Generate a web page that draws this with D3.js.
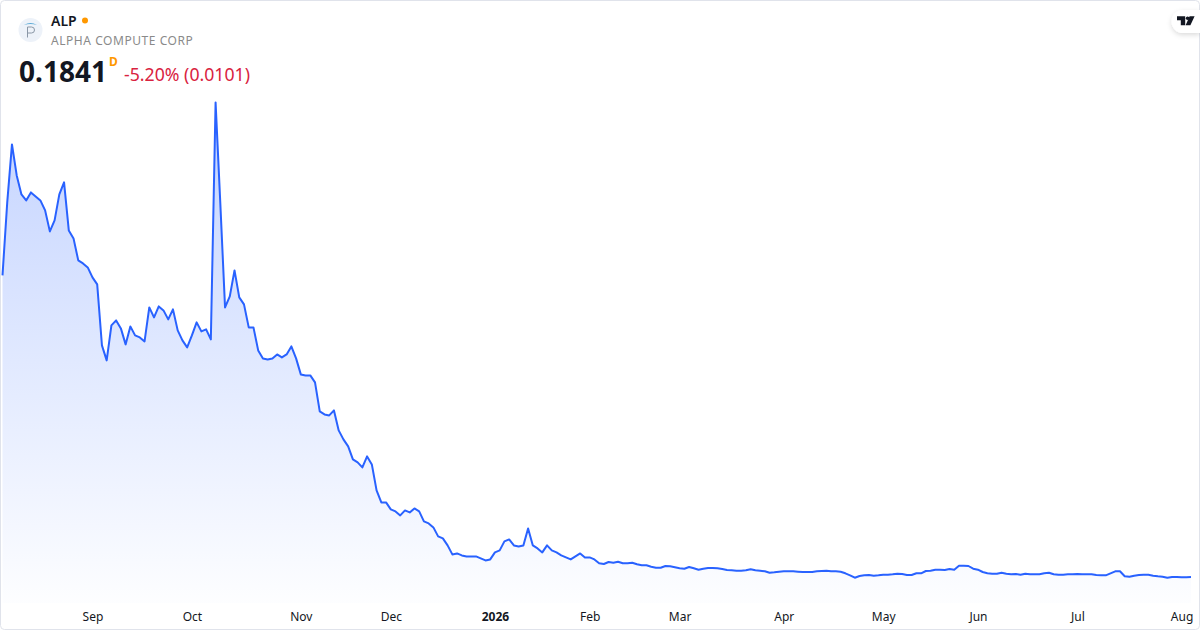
<!DOCTYPE html>
<html>
<head>
<meta charset="utf-8">
<script src="https://cdn.jsdelivr.net/npm/d3@7"></script>
<style>
  html, body { margin: 0; padding: 0; background: #fff; }
  svg { display: block; font-family: "Noto Sans", sans-serif; }
</style>
</head>
<body>
<svg id="chart" width="1200" height="630"></svg>
<script>
// closing prices, one per trading day
const prices = [
  3.20, 3.93, 4.51, 4.20, 4.01, 3.95, 4.03, 3.99, 3.95, 3.85,
  3.64, 3.75, 4.01, 4.13, 3.65, 3.57, 3.35, 3.32, 3.28, 3.18,
  3.11, 2.50, 2.35, 2.70, 2.75, 2.67, 2.51, 2.69, 2.60, 2.58,
  2.54, 2.88, 2.78, 2.89, 2.85, 2.76, 2.86, 2.65, 2.55, 2.48,
  2.60, 2.73, 2.64, 2.66, 2.56, 4.93, 3.92, 2.88, 2.99, 3.25,
  2.98, 2.91, 2.68, 2.68, 2.45, 2.37, 2.36, 2.37, 2.41, 2.38,
  2.41, 2.49, 2.37, 2.21, 2.20, 2.20, 2.13, 1.84, 1.81, 1.80,
  1.85, 1.65, 1.56, 1.49, 1.36, 1.33, 1.28, 1.39, 1.31, 1.05,
  0.93, 0.93, 0.86, 0.84, 0.80, 0.85, 0.83, 0.87, 0.84, 0.74,
  0.72, 0.68, 0.59, 0.57, 0.50, 0.41, 0.42, 0.40, 0.39, 0.39,
  0.39, 0.37, 0.35, 0.36, 0.43, 0.45, 0.54, 0.56, 0.50, 0.49,
  0.50, 0.67, 0.50, 0.47, 0.43, 0.50, 0.45, 0.43, 0.40, 0.38,
  0.36, 0.39, 0.42, 0.38, 0.38, 0.36, 0.321, 0.314, 0.334, 0.327,
  0.337, 0.321, 0.321, 0.327, 0.311, 0.301, 0.301, 0.287, 0.277, 0.277,
  0.294, 0.291, 0.281, 0.271, 0.267, 0.284, 0.271, 0.257, 0.267, 0.274,
  0.274, 0.271, 0.264, 0.254, 0.251, 0.247, 0.247, 0.251, 0.261, 0.251,
  0.247, 0.241, 0.227, 0.231, 0.237, 0.241, 0.241, 0.241, 0.237, 0.234,
  0.234, 0.234, 0.241, 0.244, 0.247, 0.241, 0.241, 0.237, 0.221, 0.201,
  0.177, 0.194, 0.201, 0.204, 0.197, 0.201, 0.207, 0.207, 0.211, 0.217,
  0.214, 0.204, 0.204, 0.221, 0.221, 0.244, 0.247, 0.257, 0.257, 0.254,
  0.264, 0.257, 0.297, 0.297, 0.294, 0.267, 0.257, 0.234, 0.221, 0.217,
  0.217, 0.227, 0.217, 0.211, 0.214, 0.207, 0.217, 0.211, 0.211, 0.211,
  0.221, 0.227, 0.211, 0.207, 0.207, 0.211, 0.211, 0.214, 0.211, 0.211,
  0.211, 0.204, 0.201, 0.201, 0.221, 0.241, 0.241, 0.191, 0.187, 0.197,
  0.204, 0.207, 0.207, 0.197, 0.191, 0.187, 0.177, 0.184, 0.184, 0.181,
  0.181, 0.1841
];
const tickIndexes = [19, 40, 63, 82, 104, 124, 143, 165, 186, 206, 227, 249];
const tickLabels = ["Sep", "Oct", "Nov", "Dec", "2026", "Feb", "Mar", "Apr", "May", "Jun", "Jul", "Aug"];

const symbol = "ALP";
const company = "ALPHA COMPUTE CORP";
const lastPrice = "0.1841";
const interval = "D";
const change = "-5.20% (0.0101)";

const svg = d3.select("#chart");

const x = d3.scaleLinear().domain([0, prices.length - 1]).range([2.5, 1191]);
const y = d3.scaleLinear().domain([0, d3.max(prices)]).range([595.4, 102.4]);
const areaBottom = 603;

const defs = svg.append("defs");
const grad = defs.append("linearGradient")
  .attr("id", "areaFill")
  .attr("gradientUnits", "userSpaceOnUse")
  .attr("x1", 0).attr("x2", 0)
  .attr("y1", y(d3.max(prices))).attr("y2", areaBottom);
grad.append("stop").attr("offset", 0).attr("stop-color", "#2962ff").attr("stop-opacity", 0.28);
grad.append("stop").attr("offset", 1).attr("stop-color", "#2962ff").attr("stop-opacity", 0.01);

const shadow = defs.append("filter").attr("id", "pillShadow")
  .attr("x", "-30%").attr("y", "-30%").attr("width", "160%").attr("height", "170%");
shadow.append("feDropShadow")
  .attr("dx", 0).attr("dy", 2).attr("stdDeviation", 2.5)
  .attr("flood-color", "#000").attr("flood-opacity", 0.14);

svg.append("path")
  .datum(prices)
  .attr("fill", "url(#areaFill)")
  .attr("d", d3.area().x((d, i) => x(i)).y0(areaBottom).y1((d) => y(d)));

svg.append("path")
  .datum(prices)
  .attr("fill", "none")
  .attr("stroke", "#2962ff")
  .attr("stroke-width", 2)
  .attr("stroke-linejoin", "round")
  .attr("d", d3.line().x((d, i) => x(i)).y((d) => y(d)));

// time axis
const axis = d3.axisBottom(x)
  .tickValues(tickIndexes)
  .tickSize(0)
  .tickPadding(0)
  .tickFormat((d, i) => tickLabels[i]);
const axisG = svg.append("g").attr("transform", "translate(0,612)").call(axis);
axisG.select(".domain").remove();
axisG.selectAll("text")
  .attr("font-family", "'Noto Sans', sans-serif")
  .attr("font-size", 12)
  .attr("fill", "#131722")
  .attr("font-weight", (d, i) => tickLabels[i] === "2026" ? 700 : 400);

// card border
svg.append("rect")
  .attr("x", 0.5).attr("y", 0.5).attr("width", 1199).attr("height", 629)
  .attr("rx", 4)
  .attr("fill", "none")
  .attr("stroke", "#e0e3eb");

// header
const logo = svg.append("g").attr("transform", "translate(30.5,30)");
logo.append("circle").attr("r", 12).attr("fill", "#edf2f9");
logo.append("path")
  .attr("d", "M-6.5,-5 Q0,-9 6.5,-5 Q0,-7 -6.5,-5Z")
  .attr("fill", "#5aa9d6");
logo.append("path")
  .attr("d", "M-3,-3 V7.5 M-3,-3 H1 A3,3 0 0 1 1,3 H-3")
  .attr("fill", "none")
  .attr("stroke", "#8a97a6")
  .attr("stroke-width", 1);

svg.append("text").attr("x", 51).attr("y", 26)
  .attr("font-size", 14).attr("font-weight", 600).attr("fill", "#131722")
  .text(symbol);
svg.append("circle").attr("cx", 85).attr("cy", 20.5).attr("r", 3).attr("fill", "#ff9800");
svg.append("text").attr("x", 51).attr("y", 45)
  .attr("font-size", 12).attr("letter-spacing", 0.55).attr("fill", "#8a8a8a")
  .text(company);
svg.append("text").attr("x", 19).attr("y", 82)
  .attr("font-size", 28).attr("font-weight", 700).attr("fill", "#131722")
  .text(lastPrice);
svg.append("text").attr("x", 109).attr("y", 66)
  .attr("font-size", 12).attr("font-weight", 700).attr("fill", "#ff9800")
  .text(interval);
svg.append("text").attr("x", 124).attr("y", 81)
  .attr("font-size", 17.7).attr("fill", "#d9233f")
  .text(change);

// logo pill, top right
const pill = svg.append("g");
pill.append("path")
  .attr("d", "M1200,10 H1183 A11.5,11.5 0 0 0 1183,33 H1200 Z")
  .attr("fill", "#fff")
  .attr("filter", "url(#pillShadow)");
pill.append("path")
  .attr("d", "M1177,16.2 H1185.2 V25.3 H1180.8 V20.2 H1177 Z M1189.6,16.2 H1194.6 L1190.4,25.3 H1185.6 Z")
  .attr("fill", "#131722");
pill.append("circle").attr("cx", 1187.6).attr("cy", 18.2).attr("r", 1.8).attr("fill", "#131722");
</script>
</body>
</html>
